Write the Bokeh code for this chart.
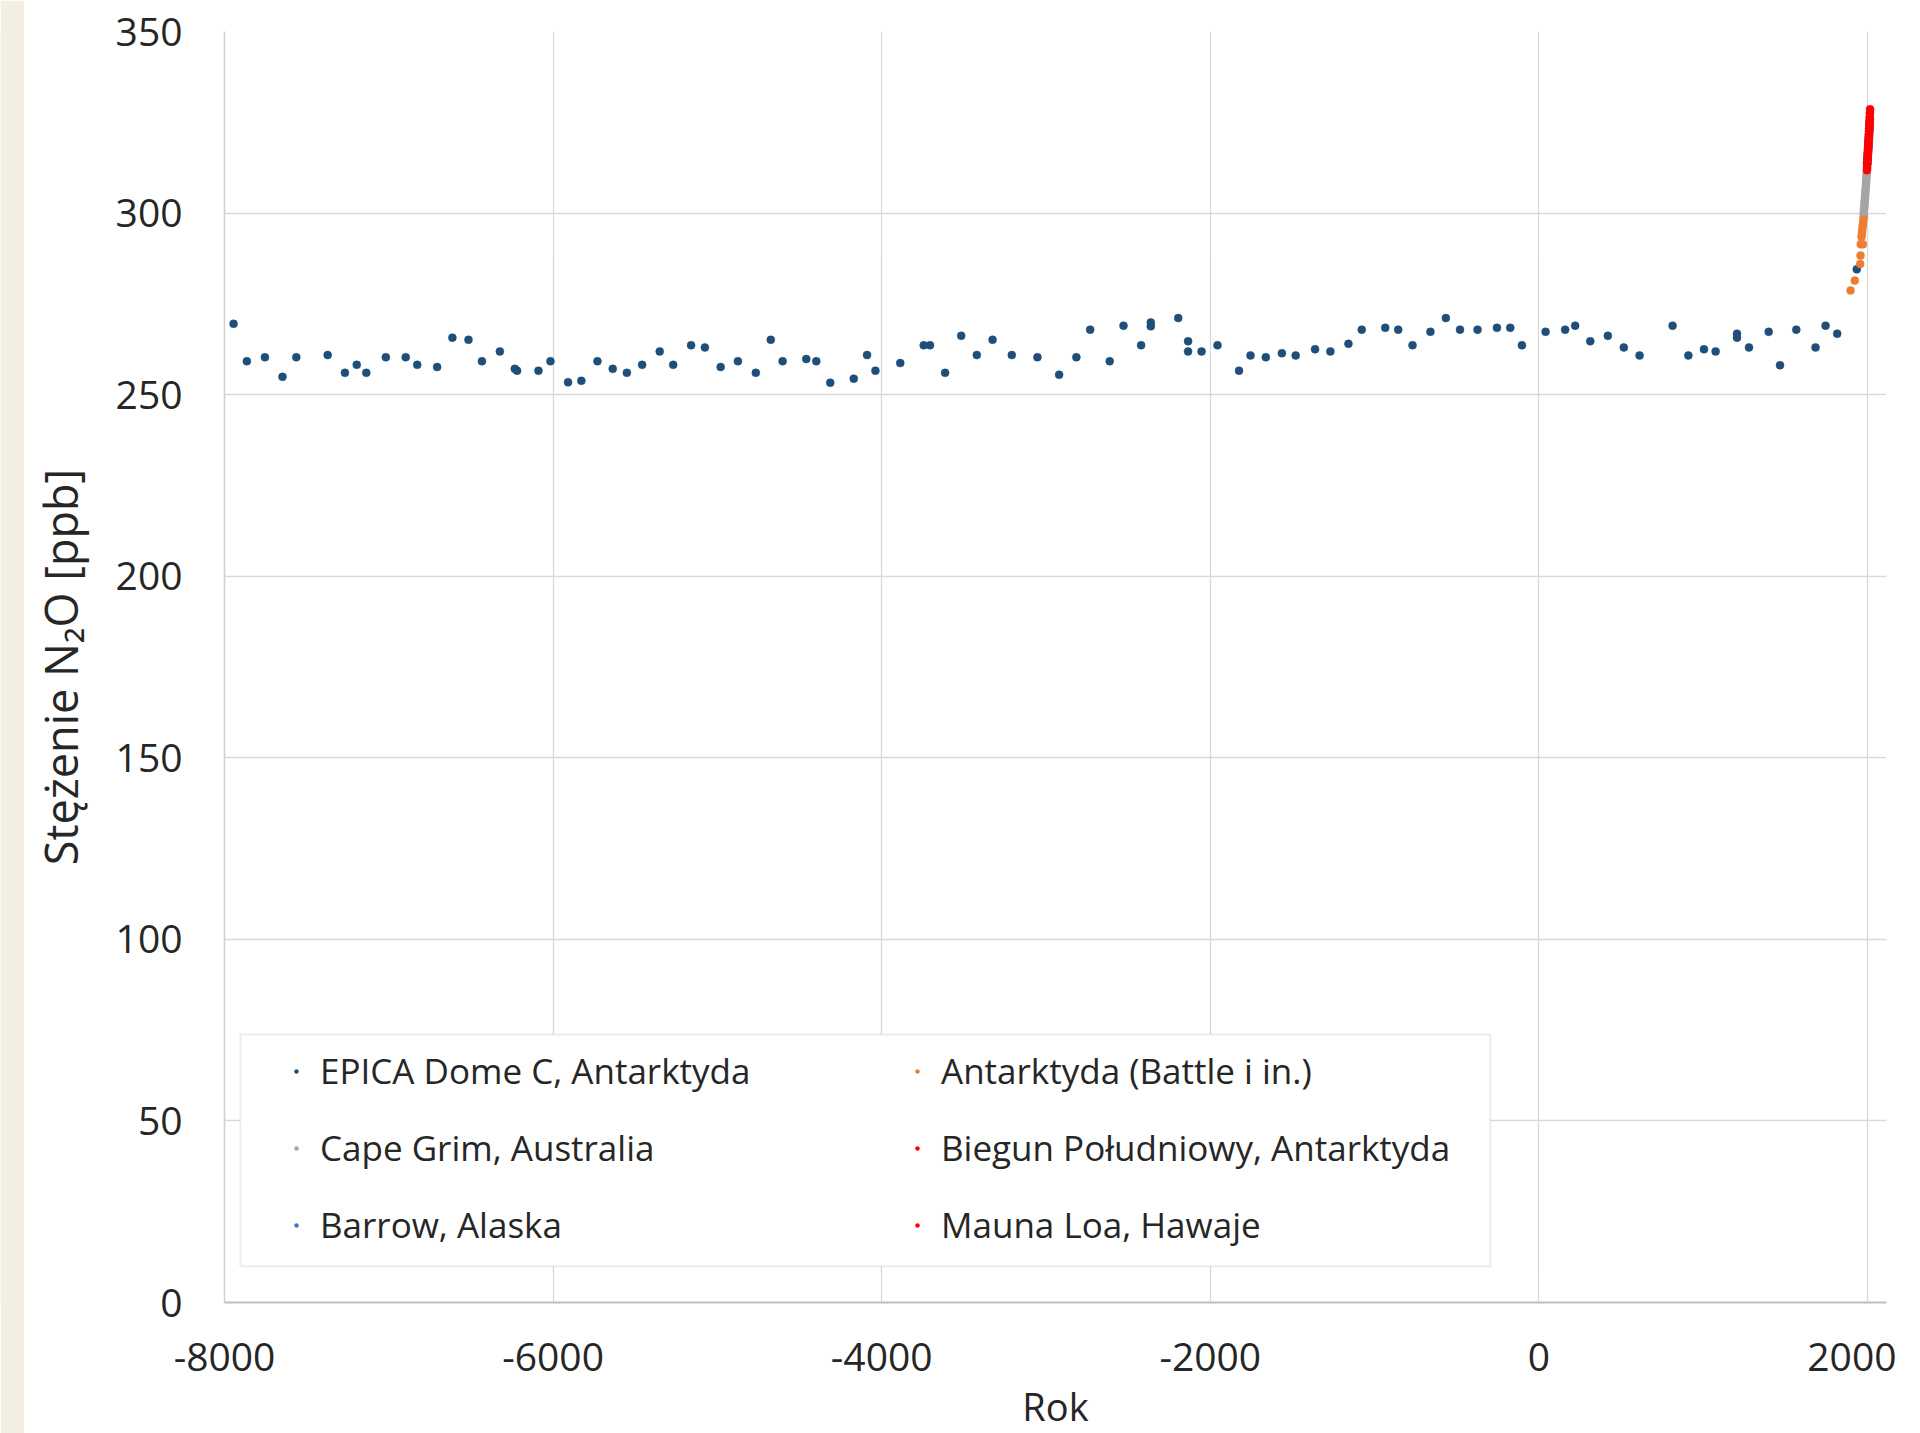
from bokeh.plotting import figure
from bokeh.models import Legend, LegendItem, BoxAnnotation, Range1d, FixedTicker, PrintfTickFormatter
from bokeh.layouts import row
from bokeh.embed import file_html
from bokeh.resources import INLINE

# ---------------- data ----------------
epica_year = [-7945, -7864, -7754, -7647, -7563, -7372, -7267, -7195, -7137, -7018,
              -6897, -6827, -6706, -6613, -6515, -6433, -6324, -6233, -6219, -6089,
              -6016, -5909, -5828, -5730, -5637, -5551, -5458, -5351, -5269, -5160,
              -5076, -4980, -4875, -4766, -4675, -4603, -4459, -4398, -4313, -4170,
              -4089, -4038, -3887, -3744, -3706, -3614, -3516, -3421, -3325, -3208,
              -3052, -2920, -2815, -2731, -2612, -2528, -2421, -2362, -2362, -2195,
              -2135, -2135, -2053, -1956, -1825, -1755, -1662, -1564, -1480, -1362,
              -1269, -1159, -1078, -935, -856, -769, -660, -566, -480, -373,
              -255, -174, -103, 41, 160, 221, 313, 420, 517, 613,
              814, 910, 1005, 1076, 1206, 1206, 1279, 1399, 1468, 1567,
              1684, 1745, 1816, 1935]
epica_n2o = [269.5, 259.2, 260.3, 254.9, 260.3, 260.9, 256.0, 258.2, 256.0, 260.3,
             260.3, 258.2, 257.6, 265.7, 265.1, 259.2, 261.9, 257.1, 256.6, 256.6,
             259.2, 253.4, 253.8, 259.2, 257.1, 256.0, 258.2, 261.9, 258.2, 263.6,
             263.0, 257.6, 259.2, 256.0, 265.1, 259.2, 259.8, 259.2, 253.3, 254.4,
             260.9, 256.6, 258.7, 263.6, 263.6, 256.0, 266.2, 260.9, 265.1, 260.9,
             260.3, 255.5, 260.3, 267.9, 259.2, 269.0, 263.6, 269.9, 268.8, 271.1,
             264.7, 261.9, 261.9, 263.6, 256.6, 260.8, 260.3, 261.4, 260.8, 262.5,
             261.9, 264.0, 267.9, 268.4, 267.9, 263.6, 267.3, 271.1, 267.9, 267.9,
             268.4, 268.4, 263.6, 267.3, 267.9, 269.0, 264.7, 266.2, 263.0, 260.8,
             269.0, 260.8, 262.5, 261.9, 266.8, 265.7, 263.0, 267.3, 258.1, 267.9,
             263.0, 269.0, 266.8, 284.5]

battle_year = [1897, 1923, 1956, 1958, 1959, 1972, 1964, 1966, 1968, 1970, 1972, 1974, 1976, 1978]
battle_n2o = [278.7, 281.4, 286.0, 288.3, 291.4, 291.4, 293.4, 294.2, 295.1, 296.0, 296.8, 297.7, 298.6, 299.4]

capegrim_year = [1978, 1979, 1980, 1981, 1982, 1983, 1984, 1985, 1986, 1987,
                 1988, 1989, 1990, 1991, 1992, 1993, 1994, 1995, 1996, 1997,
                 1998, 1999, 2000, 2001, 2002, 2003, 2004, 2005, 2006, 2007,
                 2008, 2009, 2010, 2011, 2012, 2013, 2014]
capegrim_n2o = [300.2, 300.9, 301.3, 302.0, 302.4, 303.1, 303.6, 304.3, 304.7, 305.5,
                306.0, 306.8, 307.2, 308.0, 308.5, 309.3, 309.8, 310.6, 311.1, 311.9,
                312.4, 313.3, 313.8, 314.7, 315.2, 316.1, 316.6, 317.5, 318.0, 318.9,
                319.5, 320.4, 321.0, 321.9, 322.6, 323.6, 324.2]

southpole_year = [1997, 1998, 1999, 2000, 2001, 2002, 2003, 2004, 2005, 2006,
                  2007, 2008, 2009, 2010, 2011, 2012, 2013, 2014, 2015]
southpole_n2o = [311.8, 312.5, 313.4, 314.1, 314.9, 315.6, 316.3, 316.9, 317.6, 318.4,
                 319.1, 319.9, 320.6, 321.4, 322.3, 323.1, 324.0, 324.9, 325.8]

barrow_year = [1998, 1999, 2000, 2001, 2002, 2003, 2004, 2005, 2006, 2007,
               2008, 2009, 2010, 2011, 2012, 2013, 2014, 2015]
barrow_n2o = [313.9, 314.7, 315.3, 316.0, 316.6, 317.4, 318.0, 318.7, 319.5, 320.2,
              321.0, 321.7, 322.6, 323.4, 324.4, 325.3, 326.5, 327.6]

maunaloa_year = [1998, 1999, 2000, 2001, 2002, 2003, 2004, 2005, 2006, 2007,
                 2008, 2009, 2010, 2011, 2012, 2013, 2014, 2015, 2016]
maunaloa_n2o = [313.5, 314.2, 315.0, 315.7, 316.4, 317.1, 317.9, 318.6, 319.4, 320.1,
                320.9, 321.7, 322.5, 323.3, 324.2, 325.1, 326.2, 327.4, 328.6]

x_ticks = [-8000, -6000, -4000, -2000, 0, 2000]
y_ticks = [0, 50, 100, 150, 200, 250, 300, 350]

FONT = "Open Sans"
TXT = "#262626"

# ---------------- figure ----------------
p = figure(frame_width=1662, frame_height=1271,
           min_border_left=200, min_border_right=10, min_border_top=31, min_border_bottom=100,
           x_range=Range1d(-8000, 2116), y_range=Range1d(0, 350),
           output_backend="svg", toolbar_location=None,
           background_fill_color="white", border_fill_color="white")
p.outline_line_color = None

for ax in (p.xaxis[0], p.yaxis[0]):
    ax.major_tick_line_color = None
    ax.minor_tick_line_color = None
    ax.major_tick_out = 0
    ax.major_tick_in = 0
    ax.minor_tick_out = 0
    ax.minor_tick_in = 0
    ax.major_label_text_font = FONT
    ax.major_label_text_font_size = "39px"
    ax.major_label_text_color = TXT
    ax.axis_label_text_font = FONT
    ax.axis_label_text_font_style = "normal"
    ax.axis_label_text_color = TXT
    ax.formatter = PrintfTickFormatter(format="%d")

p.xaxis.ticker = FixedTicker(ticks=x_ticks)
p.yaxis.ticker = FixedTicker(ticks=y_ticks)
p.xaxis.axis_line_color = "#bfbfbf"
p.xaxis.axis_line_width = 2
p.yaxis.axis_line_color = "#d0d0d0"
p.yaxis.axis_line_width = 1.5
p.xaxis.major_label_standoff = 40
p.yaxis.major_label_standoff = 42
p.xaxis.axis_label = "Rok"
p.yaxis.axis_label = "Stężenie N\u2082O [ppb]"
p.xaxis.axis_label_text_font_size = "38px"
p.yaxis.axis_label_text_font_size = "45px"
p.xaxis.axis_label_standoff = 6
p.yaxis.axis_label_standoff = 22

p.xgrid.grid_line_color = "#d9d9d9"
p.ygrid.grid_line_color = "#d9d9d9"
p.xgrid.grid_line_width = 1.3
p.ygrid.grid_line_width = 1.3

series = [
    ("EPICA Dome C, Antarktyda", epica_year, epica_n2o, "#1f4e79"),
    ("Antarktyda (Battle i in.)", battle_year, battle_n2o, "#ed7d31"),
    ("Cape Grim, Australia", capegrim_year, capegrim_n2o, "#a5a5a5"),
    ("Biegun Południowy, Antarktyda", southpole_year, southpole_n2o, "#ff0000"),
    ("Barrow, Alaska", barrow_year, barrow_n2o, "#4472c4"),
    ("Mauna Loa, Hawaje", maunaloa_year, maunaloa_n2o, "#ff0000"),
]
renderers = {}
for name, xs, ys, col in series:
    r = p.scatter(xs, ys, size=8, fill_color=col, line_color=col, line_width=0.5)
    renderers[name] = r

# legend frame box
box = BoxAnnotation(left=-7903, right=-295, bottom=10.0, top=73.8,
                    fill_color="white", fill_alpha=1.0,
                    line_color="#bfbfbf", line_width=2, level="annotation")
p.add_layout(box)

order = ["EPICA Dome C, Antarktyda", "Cape Grim, Australia", "Barrow, Alaska",
         "Antarktyda (Battle i in.)", "Biegun Południowy, Antarktyda", "Mauna Loa, Hawaje"]
legend = Legend(items=[LegendItem(label=n, renderers=[renderers[n]]) for n in order],
                location=(67, 54), ncols=2, orientation="vertical",
                padding=0, margin=0, spacing=30,
                glyph_width=10, glyph_height=10, label_height=47, label_width=562,
                label_standoff=19,
                label_text_font=FONT, label_text_font_size="35px", label_text_color=TXT,
                border_line_color=None, background_fill_alpha=0.0)
p.add_layout(legend)

strip = figure(width=24, height=1433, toolbar_location=None, output_backend="svg",
               x_axis_type=None, y_axis_type=None, min_border=0,
               background_fill_color="#f2efe2", border_fill_color="#f2efe2")
strip.outline_line_color = None
strip.grid.visible = False

layout = row(strip, p, spacing=0)
open("out.html", "w").write(file_html(layout, INLINE))
